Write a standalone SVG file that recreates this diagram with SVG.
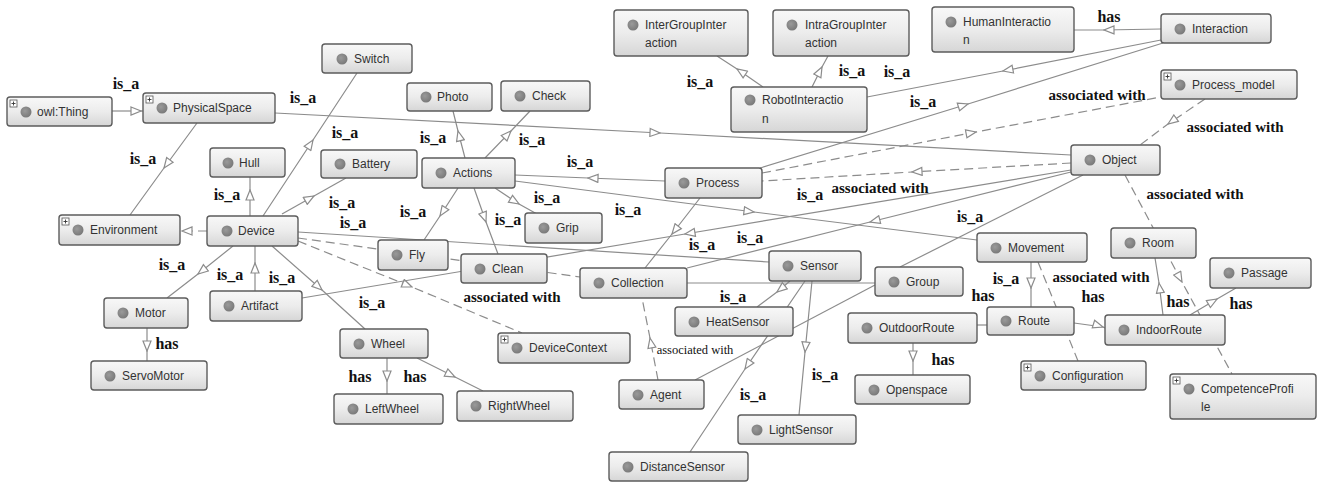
<svg xmlns="http://www.w3.org/2000/svg" width="1318" height="483" viewBox="0 0 1318 483">
<defs>
<linearGradient id="ng" x1="0" y1="0" x2="0" y2="1">
<stop offset="0" stop-color="#f8f8f8"/><stop offset="0.5" stop-color="#ececec"/><stop offset="1" stop-color="#d6d6d6"/>
</linearGradient>
<radialGradient id="dg" cx="0.4" cy="0.4" r="0.6">
<stop offset="0" stop-color="#9a9a9a"/><stop offset="1" stop-color="#7a7a7a"/>
</radialGradient>
<marker id="tri" viewBox="0 0 12 10" refX="11" refY="5" markerWidth="12" markerHeight="10" markerUnits="userSpaceOnUse" orient="auto">
<path d="M1,1 L11,5 L1,9 Z" fill="#fff" stroke="#8c8c8c" stroke-width="1.2"/>
</marker>
<g id="plus"><rect x="0" y="0" width="7" height="7" fill="#fff" stroke="#555" stroke-width="0.8"/><path d="M1.5,3.5 H5.5 M3.5,1.5 V5.5" stroke="#333" stroke-width="0.9"/></g>
</defs>
<style>
.n rect.b{fill:url(#ng);stroke:#5c5c5c;stroke-width:1.4}
.n circle{fill:url(#dg)}
.n text{font-family:"Liberation Sans",Arial,sans-serif;font-size:12px;fill:#333}
.e{fill:none;stroke:#8c8c8c;stroke-width:1.2}
.d{stroke-dasharray:9 5}
.m{marker-mid:url(#tri)}
.l{font-family:"Liberation Serif","Times New Roman",serif;font-weight:bold;font-size:16px;fill:#111;text-anchor:middle}
.la{font-size:15px}
.ls{font-size:12.5px;font-weight:normal}
</style>
<rect width="1318" height="483" fill="#fff"/>
<g id="connectors">
<path class="e m" d="M112,111 L141,111 L143,111"/>
<path class="e m" d="M197,123 L164,168 L130,215"/>
<path class="e m" d="M275,113 L660,133 L1071,155"/>
<path class="e m" d="M263,216 L313,140 L357,73"/>
<path class="e m" d="M282,214 L314,196 L346,178"/>
<path class="e m" d="M250,216 L250,190 L250,177"/>
<path class="e d m" d="M207,231 L182,231 L180,231"/>
<path class="e m" d="M233,246 L198,274 L167,298"/>
<path class="e m" d="M255,291 L255,263 L255,246"/>
<path class="e m" d="M272,246 L322,290 L365,329"/>
<path class="e d m" d="M298,241 L412,287 L522,333"/>
<path class="e" d="M298,232 L769,262"/>
<path class="e d" d="M298,238 L580,277"/>
<path class="e m" d="M465,158 L458,131 L453,111"/>
<path class="e m" d="M485,158 L511,131 L530,111"/>
<path class="e m" d="M458,188 L440,216 L424,240"/>
<path class="e m" d="M474,188 L486,222 L498,254"/>
<path class="e m" d="M495,188 L519,204 L537,214"/>
<path class="e m" d="M665,181 L588,178 L515,175"/>
<path class="e m" d="M515,181 L754,212 L977,240"/>
<path class="e m" d="M1071,170 L685,234 L302,298"/>
<path class="e m" d="M700,198 L672,234 L645,268"/>
<path class="e m" d="M1071,172 L870,222 L687,268"/>
<path class="e" d="M1083,175 L900,267"/>
<path class="e d m" d="M1071,163 L912,172 L762,181"/>
<path class="e d m" d="M762,173 L976,132 L1161,97"/>
<path class="e m" d="M760,168 L968,104 L1163,43"/>
<path class="e m" d="M1161,40 L1003,71 L867,97"/>
<path class="e m" d="M763,87 L737,69 L717,56"/>
<path class="e m" d="M812,87 L822,67 L828,56"/>
<path class="e m" d="M1161,29 L1104,30 L1074,30"/>
<path class="e d m" d="M1205,99 L1168,124 L1140,145"/>
<path class="e d m" d="M1125,175 L1182,282 L1232,374"/>
<path class="e m" d="M1031,262 L1031,288 L1031,307"/>
<path class="e d" d="M1038,262 L1078,361"/>
<path class="e m" d="M1074,323 L1103,327 L1105,328"/>
<path class="e" d="M977,325 L987,325"/>
<path class="e m" d="M913,343 L913,361 L913,375"/>
<path class="e m" d="M1163,315 L1159,283 L1155,258"/>
<path class="e m" d="M1190,315 L1217,299 L1236,288"/>
<path class="e m" d="M147,328 L147,351 L147,361"/>
<path class="e m" d="M387,358 L387,381 L387,394"/>
<path class="e m" d="M417,358 L455,377 L483,391"/>
<path class="e m" d="M812,281 L805,352 L799,415"/>
<path class="e m" d="M805,281 L745,369 L690,452"/>
<path class="e m" d="M790,281 L777,292 L757,307"/>
<path class="e" d="M687,283 L875,283"/>
<path class="e" d="M875,285 L695,380"/>
<path class="e d m" d="M658,380 L650,338 L642,298"/>
</g>
<g id="labels">
<text class="l" x="126" y="89">is_a</text>
<text class="l" x="303" y="103">is_a</text>
<text class="l" x="143" y="164">is_a</text>
<text class="l" x="345" y="138">is_a</text>
<text class="l" x="433" y="143">is_a</text>
<text class="l" x="532" y="145">is_a</text>
<text class="l" x="580" y="167">is_a</text>
<text class="l" x="700" y="87">is_a</text>
<text class="l" x="852" y="76">is_a</text>
<text class="l" x="897" y="77">is_a</text>
<text class="l" x="923" y="107">is_a</text>
<text class="l" x="1109" y="22">has</text>
<text class="l la" x="1097" y="100">associated with</text>
<text class="l la" x="1235" y="132">associated with</text>
<text class="l" x="227" y="200">is_a</text>
<text class="l" x="172" y="270">is_a</text>
<text class="l" x="230" y="280">is_a</text>
<text class="l" x="282" y="283">is_a</text>
<text class="l" x="342" y="208">is_a</text>
<text class="l" x="353" y="228">is_a</text>
<text class="l" x="413" y="217">is_a</text>
<text class="l" x="508" y="225">is_a</text>
<text class="l" x="547" y="203">is_a</text>
<text class="l" x="628" y="215">is_a</text>
<text class="l" x="372" y="308">is_a</text>
<text class="l la" x="512" y="302">associated with</text>
<text class="l" x="810" y="200">is_a</text>
<text class="l la" x="880" y="193">associated with</text>
<text class="l" x="970" y="222">is_a</text>
<text class="l" x="702" y="250">is_a</text>
<text class="l" x="750" y="243">is_a</text>
<text class="l" x="733" y="302">is_a</text>
<text class="l" x="983" y="301">has</text>
<text class="l" x="1006" y="284">is_a</text>
<text class="l la" x="1101" y="282">associated with</text>
<text class="l" x="1093" y="302">has</text>
<text class="l la" x="1195" y="199">associated with</text>
<text class="l" x="1178" y="307">has</text>
<text class="l" x="1241" y="309">has</text>
<text class="l" x="167" y="349">has</text>
<text class="l" x="360" y="382">has</text>
<text class="l" x="415" y="382">has</text>
<text class="l ls" x="695" y="354">associated with</text>
<text class="l" x="825" y="380">is_a</text>
<text class="l" x="753" y="400">is_a</text>
<text class="l" x="943" y="365">has</text>
</g>
<g id="owl_Thing" class="n"><rect class="b" x="7" y="97" width="105" height="29" rx="3"/><use href="#plus" x="10" y="100"/><circle cx="26" cy="112" r="5.5"/><text x="37" y="116">owl:Thing</text></g>
<g id="PhysicalSpace" class="n"><rect class="b" x="143" y="93" width="132" height="30" rx="3"/><use href="#plus" x="146" y="96"/><circle cx="162" cy="108" r="5.5"/><text x="173" y="112">PhysicalSpace</text></g>
<g id="Switch" class="n"><rect class="b" x="322" y="44" width="90" height="29" rx="3"/><circle cx="342" cy="59" r="5.5"/><text x="354" y="63">Switch</text></g>
<g id="Photo" class="n"><rect class="b" x="407" y="83" width="85" height="28" rx="3"/><circle cx="426" cy="97" r="5.5"/><text x="437" y="101">Photo</text></g>
<g id="Check" class="n"><rect class="b" x="501" y="81" width="89" height="30" rx="3"/><circle cx="520" cy="96" r="5.5"/><text x="532" y="100">Check</text></g>
<g id="InterGroupInteraction" class="n"><rect class="b" x="614" y="10" width="134" height="46" rx="3"/><circle cx="633" cy="25" r="5.5"/><text x="645" y="29">InterGroupInter</text><text x="645" y="47">action</text></g>
<g id="IntraGroupInteraction" class="n"><rect class="b" x="773" y="10" width="136" height="46" rx="3"/><circle cx="792" cy="25" r="5.5"/><text x="805" y="29">IntraGroupInter</text><text x="805" y="47">action</text></g>
<g id="HumanInteraction" class="n"><rect class="b" x="932" y="7" width="142" height="45" rx="3"/><circle cx="951" cy="22" r="5.5"/><text x="963" y="26">HumanInteractio</text><text x="963" y="44">n</text></g>
<g id="RobotInteraction" class="n"><rect class="b" x="731" y="87" width="136" height="45" rx="3"/><circle cx="750" cy="100" r="5.5"/><text x="762" y="104">RobotInteractio</text><text x="762" y="123">n</text></g>
<g id="Interaction" class="n"><rect class="b" x="1161" y="14" width="110" height="29" rx="3"/><circle cx="1180" cy="29" r="5.5"/><text x="1192" y="33">Interaction</text></g>
<g id="Process_model" class="n"><rect class="b" x="1161" y="70" width="136" height="29" rx="3"/><use href="#plus" x="1164" y="73"/><circle cx="1180" cy="85" r="5.5"/><text x="1192" y="89">Process_model</text></g>
<g id="Object" class="n"><rect class="b" x="1071" y="145" width="89" height="30" rx="3"/><circle cx="1090" cy="160" r="5.5"/><text x="1102" y="164">Object</text></g>
<g id="Hull" class="n"><rect class="b" x="210" y="148" width="75" height="29" rx="3"/><circle cx="228" cy="163" r="5.5"/><text x="239" y="167">Hull</text></g>
<g id="Battery" class="n"><rect class="b" x="321" y="150" width="96" height="28" rx="3"/><circle cx="340" cy="164" r="5.5"/><text x="352" y="168">Battery</text></g>
<g id="Actions" class="n"><rect class="b" x="422" y="158" width="93" height="30" rx="3"/><circle cx="441" cy="173" r="5.5"/><text x="453" y="177">Actions</text></g>
<g id="Process" class="n"><rect class="b" x="665" y="168" width="97" height="30" rx="3"/><circle cx="684" cy="183" r="5.5"/><text x="696" y="187">Process</text></g>
<g id="Environment" class="n"><rect class="b" x="59" y="215" width="121" height="30" rx="3"/><use href="#plus" x="62" y="218"/><circle cx="78" cy="230" r="5.5"/><text x="90" y="234">Environment</text></g>
<g id="Device" class="n"><rect class="b" x="207" y="216" width="91" height="30" rx="3"/><circle cx="227" cy="231" r="5.5"/><text x="238" y="235">Device</text></g>
<g id="Grip" class="n"><rect class="b" x="525" y="213" width="77" height="30" rx="3"/><circle cx="544" cy="228" r="5.5"/><text x="556" y="232">Grip</text></g>
<g id="Fly" class="n"><rect class="b" x="378" y="240" width="70" height="30" rx="3"/><circle cx="397" cy="255" r="5.5"/><text x="409" y="259">Fly</text></g>
<g id="Clean" class="n"><rect class="b" x="461" y="254" width="86" height="29" rx="3"/><circle cx="480" cy="269" r="5.5"/><text x="492" y="273">Clean</text></g>
<g id="Collection" class="n"><rect class="b" x="580" y="268" width="107" height="30" rx="3"/><circle cx="599" cy="283" r="5.5"/><text x="611" y="287">Collection</text></g>
<g id="Sensor" class="n"><rect class="b" x="769" y="251" width="92" height="30" rx="3"/><circle cx="788" cy="266" r="5.5"/><text x="800" y="270">Sensor</text></g>
<g id="Group" class="n"><rect class="b" x="875" y="267" width="88" height="29" rx="3"/><circle cx="894" cy="282" r="5.5"/><text x="906" y="286">Group</text></g>
<g id="Movement" class="n"><rect class="b" x="977" y="233" width="110" height="29" rx="3"/><circle cx="996" cy="248" r="5.5"/><text x="1008" y="252">Movement</text></g>
<g id="Room" class="n"><rect class="b" x="1111" y="228" width="85" height="30" rx="3"/><circle cx="1130" cy="243" r="5.5"/><text x="1142" y="247">Room</text></g>
<g id="Passage" class="n"><rect class="b" x="1210" y="258" width="101" height="30" rx="3"/><circle cx="1229" cy="273" r="5.5"/><text x="1241" y="277">Passage</text></g>
<g id="Motor" class="n"><rect class="b" x="104" y="298" width="84" height="30" rx="3"/><circle cx="123" cy="313" r="5.5"/><text x="135" y="317">Motor</text></g>
<g id="Artifact" class="n"><rect class="b" x="210" y="291" width="92" height="30" rx="3"/><circle cx="229" cy="306" r="5.5"/><text x="241" y="310">Artifact</text></g>
<g id="HeatSensor" class="n"><rect class="b" x="675" y="307" width="118" height="29" rx="3"/><circle cx="694" cy="322" r="5.5"/><text x="706" y="326">HeatSensor</text></g>
<g id="Route" class="n"><rect class="b" x="987" y="307" width="87" height="28" rx="3"/><circle cx="1006" cy="321" r="5.5"/><text x="1018" y="325">Route</text></g>
<g id="IndoorRoute" class="n"><rect class="b" x="1105" y="315" width="120" height="30" rx="3"/><circle cx="1124" cy="330" r="5.5"/><text x="1136" y="334">IndoorRoute</text></g>
<g id="OutdoorRoute" class="n"><rect class="b" x="848" y="313" width="129" height="30" rx="3"/><circle cx="867" cy="328" r="5.5"/><text x="879" y="332">OutdoorRoute</text></g>
<g id="Wheel" class="n"><rect class="b" x="340" y="329" width="88" height="29" rx="3"/><circle cx="359" cy="344" r="5.5"/><text x="371" y="348">Wheel</text></g>
<g id="DeviceContext" class="n"><rect class="b" x="498" y="333" width="132" height="30" rx="3"/><use href="#plus" x="501" y="336"/><circle cx="517" cy="348" r="5.5"/><text x="529" y="352">DeviceContext</text></g>
<g id="ServoMotor" class="n"><rect class="b" x="91" y="361" width="116" height="29" rx="3"/><circle cx="110" cy="376" r="5.5"/><text x="122" y="380">ServoMotor</text></g>
<g id="Configuration" class="n"><rect class="b" x="1021" y="361" width="125" height="29" rx="3"/><use href="#plus" x="1024" y="364"/><circle cx="1040" cy="376" r="5.5"/><text x="1052" y="380">Configuration</text></g>
<g id="CompetenceProfile" class="n"><rect class="b" x="1170" y="374" width="146" height="45" rx="3"/><use href="#plus" x="1173" y="377"/><circle cx="1189" cy="389" r="5.5"/><text x="1201" y="393">CompetenceProfi</text><text x="1201" y="411">le</text></g>
<g id="Openspace" class="n"><rect class="b" x="855" y="375" width="115" height="29" rx="3"/><circle cx="874" cy="390" r="5.5"/><text x="886" y="394">Openspace</text></g>
<g id="Agent" class="n"><rect class="b" x="619" y="380" width="85" height="29" rx="3"/><circle cx="638" cy="395" r="5.5"/><text x="650" y="399">Agent</text></g>
<g id="RightWheel" class="n"><rect class="b" x="457" y="391" width="116" height="30" rx="3"/><circle cx="476" cy="406" r="5.5"/><text x="488" y="410">RightWheel</text></g>
<g id="LeftWheel" class="n"><rect class="b" x="334" y="394" width="109" height="30" rx="3"/><circle cx="353" cy="409" r="5.5"/><text x="365" y="413">LeftWheel</text></g>
<g id="LightSensor" class="n"><rect class="b" x="738" y="415" width="118" height="29" rx="3"/><circle cx="757" cy="430" r="5.5"/><text x="769" y="434">LightSensor</text></g>
<g id="DistanceSensor" class="n"><rect class="b" x="609" y="452" width="139" height="29" rx="3"/><circle cx="628" cy="467" r="5.5"/><text x="640" y="471">DistanceSensor</text></g>
</svg>
